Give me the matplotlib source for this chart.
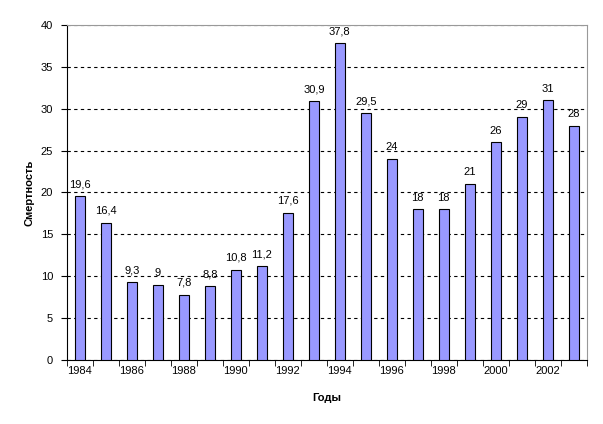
import numpy as np
import matplotlib.pyplot as plt

plt.rcParams['font.family'] = ['Liberation Sans', 'DejaVu Sans']

years = list(range(1984, 2004))
values = [19.6, 16.4, 9.3, 9, 7.8, 8.8, 10.8, 11.2, 17.6, 30.9,
          37.8, 29.5, 24, 18, 18, 21, 26, 29, 31, 28]
labels = ['19,6', '16,4', '9,3', '9', '7,8', '8,8', '10,8', '11,2', '17,6', '30,9',
          '37,8', '29,5', '24', '18', '18', '21', '26', '29', '31', '28']

fig = plt.figure(figsize=(6.03, 4.24), dpi=100)
ax = fig.add_axes([0.111, 0.151, 0.862, 0.790])

x = np.arange(len(years))
ax.bar(x, values, width=0.4, color='#9999FF', edgecolor='black', linewidth=0.8, zorder=3)
for xi, v, t in zip(x, values, labels):
    ax.text(xi, v + 0.8, t, ha='center', va='bottom', fontsize=8)

ax.set_xlim(-0.5, len(years) - 0.5)
ax.set_ylim(0, 40)
ax.set_yticks(range(0, 41, 5))
ax.yaxis.grid(True, linestyle=(0, (3, 3)), color='black', linewidth=0.8, zorder=1)

ax.set_xticks(x[::2])
ax.set_xticklabels([str(y) for y in years[::2]])
ax.set_xticks(np.arange(-0.5, len(years), 1), minor=True)
ax.tick_params(axis='x', which='major', length=0, pad=4, labelsize=8)
ax.tick_params(axis='x', which='minor', length=4, direction='out')
ax.tick_params(axis='y', length=4, direction='out', pad=6, labelsize=8)

ax.spines['top'].set_color('#999999')
ax.spines['right'].set_color('#999999')

ax.set_xlabel('Годы', fontsize=8, fontweight='bold')
ax.set_ylabel('Смертность', fontsize=8, fontweight='bold')
ax.xaxis.set_label_coords(0.5, -0.1)
ax.yaxis.set_label_coords(-0.062, 0.5)

fig.savefig('out.png', dpi=100)
